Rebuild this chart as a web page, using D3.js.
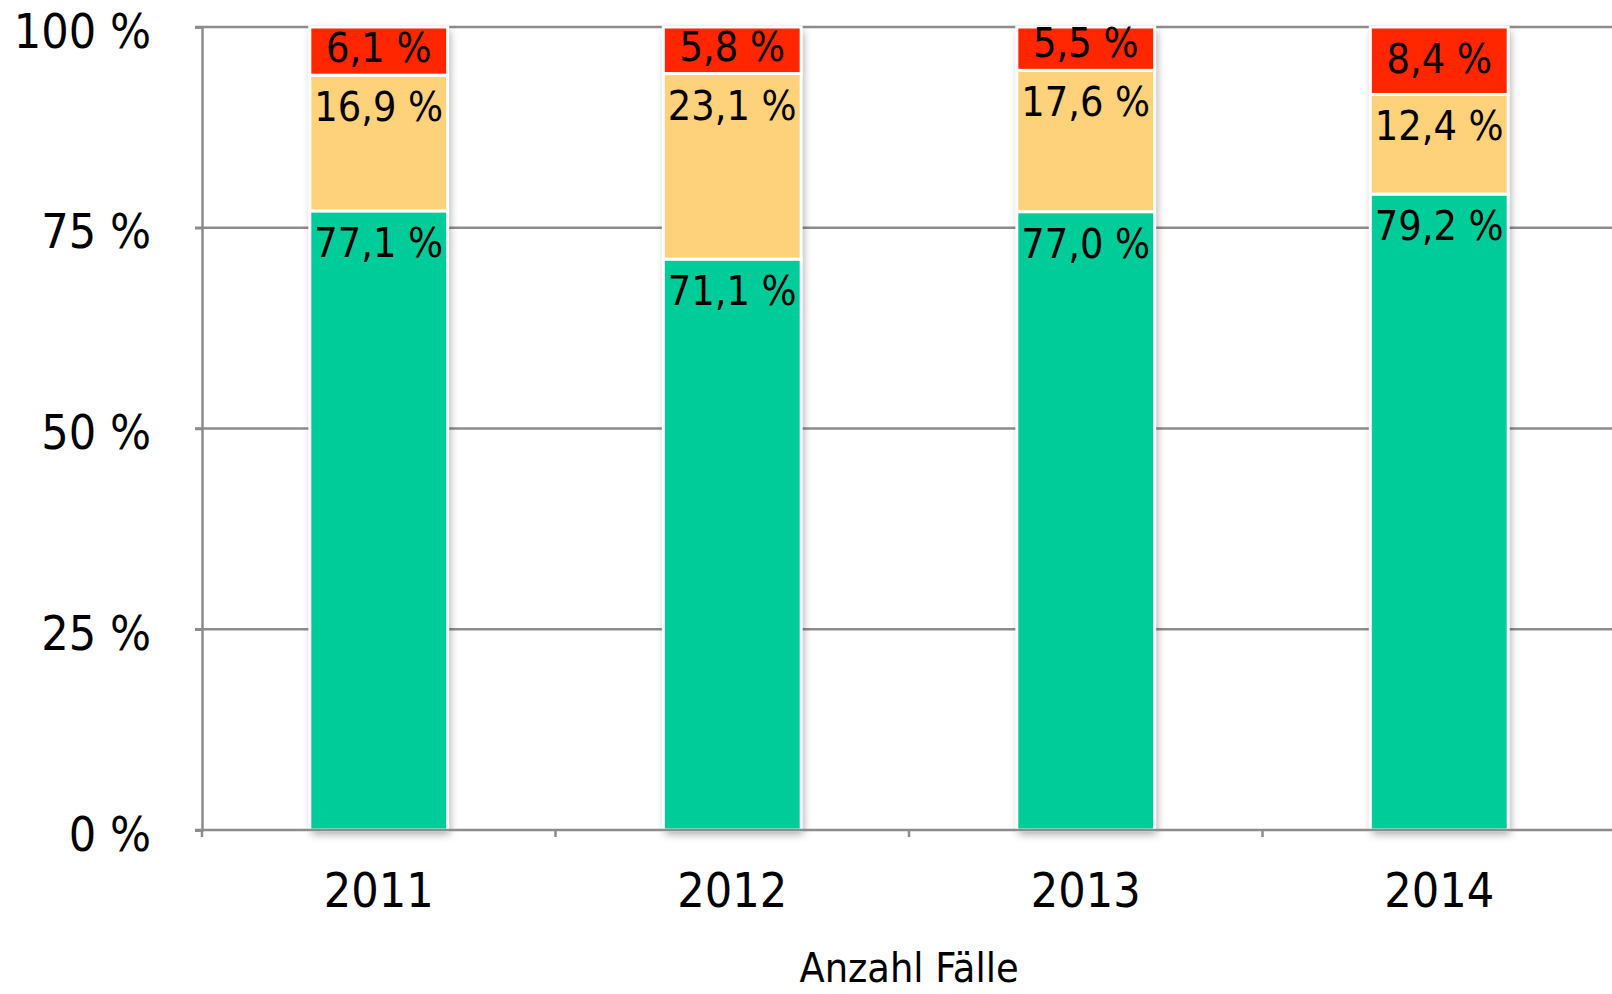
<!DOCTYPE html>
<html>
<head>
<meta charset="utf-8">
<script src="https://cdn.jsdelivr.net/npm/d3@7/dist/d3.min.js"></script>
<style>
  html, body { margin: 0; padding: 0; background: #fff; }
  svg { display: block; }
  text { font-family: Tahoma, "DejaVu Sans Condensed", "DejaVu Sans", sans-serif; fill: #000; }
</style>
</head>
<body>
<svg id="chart" width="1612" height="994"></svg>
<script>
  // data
  var years = ["2011", "2012", "2013", "2014"];
  var green = [77.1, 71.1, 77.0, 79.2];
  var yellow = [16.9, 23.1, 17.6, 12.4];
  var red = [6.1, 5.8, 5.5, 8.4];
  var yTicks = [0, 25, 50, 75, 100];
  var xTitle = "Anzahl Fälle";

  var seriesColors = ["#00cc99", "#fdd27b", "#ff2600"];

  var W = 1612, H = 994;
  var plot = { left: 202, right: 1616, top: 27, bottom: 830 };

  var svg = d3.select("#chart");

  var defs = svg.append("defs");
  var f = defs.append("filter").attr("id", "shadow")
    .attr("x", "-20%").attr("y", "-5%").attr("width", "140%").attr("height", "110%");
  f.append("feDropShadow").attr("dx", 2).attr("dy", 4)
    .attr("stdDeviation", 4).attr("flood-color", "#000").attr("flood-opacity", 0.35);

  var x = d3.scaleBand().domain(years).range([plot.left, plot.right]).paddingInner(0.61).paddingOuter(0.305);
  var y = d3.scaleLinear().domain([0, 100]).range([plot.bottom, plot.top]).clamp(true);

  // grid lines
  svg.append("g").selectAll("line").data(yTicks.filter(function (d) { return d > 0; }))
    .enter().append("line")
    .attr("x1", plot.left - 7).attr("x2", W)
    .attr("y1", function (d) { return y(d); }).attr("y2", function (d) { return y(d); })
    .attr("stroke", "#8c8c8c").attr("stroke-width", 2.5);

  // y axis
  var yAxis = svg.append("g").attr("transform", "translate(" + plot.left + ",0)")
    .call(d3.axisLeft(y).tickValues(yTicks).tickSize(7).tickPadding(44)
      .tickFormat(function (d) { return d + " %"; }));
  yAxis.select(".domain").attr("stroke", "#8c8c8c").attr("stroke-width", 2.5);
  yAxis.selectAll(".tick line").attr("stroke", "#8c8c8c").attr("stroke-width", 2.5);
  yAxis.selectAll(".tick text").attr("font-size", 48).attr("dy", "0.42em")
    .style("font-family", null);

  // stacked data
  var rows = years.map(function (yr, i) {
    return { year: yr, vals: [green[i], yellow[i], red[i]] };
  });

  var bars = svg.append("g").selectAll("g.bar").data(rows).enter().append("g")
    .attr("class", "bar");

  bars.append("rect")
    .attr("x", function (d) { return x(d.year); })
    .attr("width", x.bandwidth())
    .attr("y", y(100))
    .attr("height", y(0) - y(100))
    .attr("fill", "#fff")
    .attr("filter", "url(#shadow)");

  bars.each(function (d) {
    var g = d3.select(this);
    var acc = 0;
    d.vals.forEach(function (v, k) {
      var y0 = y(acc), y1 = y(acc + v);
      acc += v;
      g.append("rect")
        .attr("x", x(d.year)).attr("width", x.bandwidth())
        .attr("y", y1).attr("height", y0 - y1)
        .attr("fill", seriesColors[k])
        .attr("stroke", "#fff").attr("stroke-width", 3);
      g.append("text")
        .attr("x", x(d.year) + x.bandwidth() / 2)
        .attr("y", Math.min(y1 + 46, y0 - 13))
        .attr("text-anchor", "middle")
        .attr("font-size", 41)
        .text(d3.format(".1f")(v).replace(".", ",") + " %");
    });
  });

  // x axis
  var xAxis = svg.append("g").attr("transform", "translate(0," + plot.bottom + ")")
    .call(d3.axisBottom(x).tickSize(0).tickPadding(43));
  xAxis.select(".domain").attr("d", "M" + (plot.left - 7) + ",0H" + W)
    .attr("stroke", "#8c8c8c").attr("stroke-width", 2.5);
  xAxis.selectAll(".tick text").attr("font-size", 48).style("font-family", null);
  svg.append("g").selectAll("line").data(years).enter().append("line")
    .attr("x1", function (d) { return x(d) - x.step() * x.paddingInner() / 2; })
    .attr("x2", function (d) { return x(d) - x.step() * x.paddingInner() / 2; })
    .attr("y1", plot.bottom).attr("y2", plot.bottom + 7)
    .attr("stroke", "#8c8c8c").attr("stroke-width", 2.5);

  svg.append("text")
    .attr("x", (plot.left + plot.right) / 2).attr("y", 982)
    .attr("text-anchor", "middle").attr("font-size", 41)
    .text(xTitle);
</script>
</body>
</html>
